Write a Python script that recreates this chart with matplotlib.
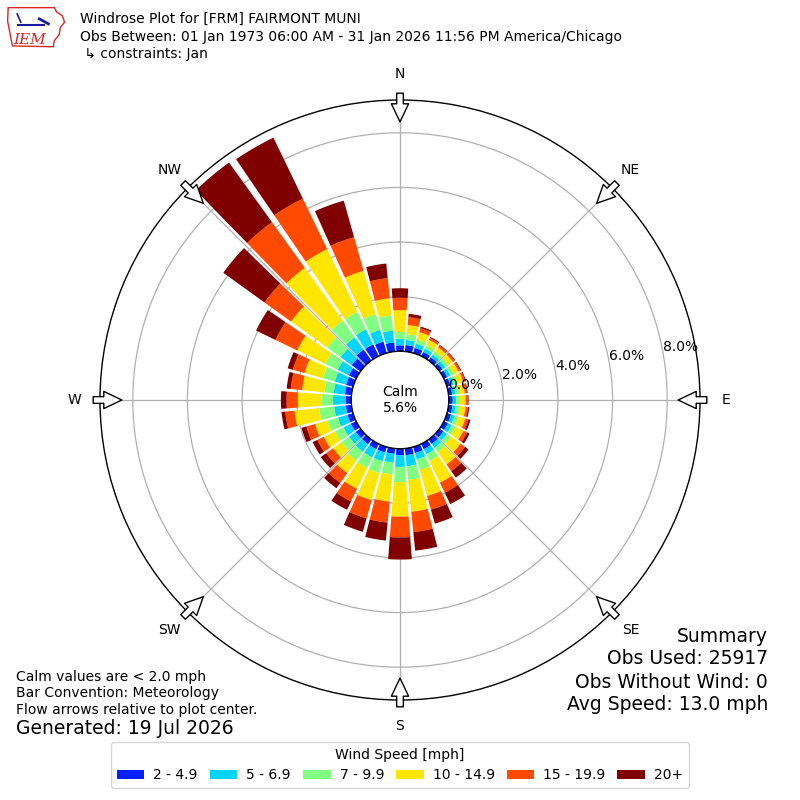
import numpy as np
import matplotlib
matplotlib.use("Agg")
from matplotlib import pyplot as plt
from matplotlib.patches import Polygon

# wind direction bins (degrees, meteorological, 10 deg sectors)
directions = np.arange(0, 360, 10)

# percent of observations per direction for each speed class
speed_2_5 = [0.22, 0.24, 0.20, 0.17, 0.15, 0.14, 0.14, 0.14, 0.14, 0.15, 0.15, 0.16,
             0.17, 0.18, 0.20, 0.22, 0.24, 0.25, 0.24, 0.20, 0.22, 0.22, 0.22, 0.22,
             0.22, 0.22, 0.21, 0.21, 0.25, 0.27, 0.30, 0.40, 0.50, 0.48, 0.44, 0.34]
speed_5_7 = [0.24, 0.19, 0.16, 0.14, 0.13, 0.13, 0.13, 0.13, 0.12, 0.12, 0.13, 0.14,
             0.15, 0.16, 0.18, 0.21, 0.24, 0.41, 0.43, 0.33, 0.33, 0.33, 0.33, 0.30,
             0.30, 0.36, 0.43, 0.46, 0.41, 0.43, 0.45, 0.50, 0.55, 0.61, 0.45, 0.43]
speed_7_10 = [0.25, 0.21, 0.16, 0.14, 0.13, 0.13, 0.13, 0.14, 0.14, 0.14, 0.14, 0.15,
              0.16, 0.18, 0.20, 0.27, 0.40, 0.50, 0.56, 0.43, 0.45, 0.43, 0.40, 0.33,
              0.34, 0.40, 0.55, 0.43, 0.34, 0.45, 0.50, 0.60, 0.75, 0.71, 0.59, 0.56]
speed_10_15 = [0.80, 0.34, 0.28, 0.21, 0.19, 0.20, 0.20, 0.21, 0.20, 0.21, 0.21, 0.25,
               0.32, 0.43, 0.55, 0.88, 0.99, 1.17, 1.26, 1.00, 1.03, 0.85, 0.57, 0.39,
               0.46, 0.47, 0.91, 0.86, 0.82, 0.70, 1.15, 1.63, 2.38, 2.55, 1.65, 0.63]
speed_15_20 = [0.45, 0.29, 0.15, 0.08, 0.08, 0.08, 0.08, 0.08, 0.08, 0.08, 0.09, 0.12,
               0.15, 0.20, 0.30, 0.41, 0.52, 0.75, 0.76, 0.77, 0.69, 0.51, 0.44, 0.31,
               0.26, 0.33, 0.34, 0.41, 0.42, 0.44, 0.88, 1.20, 2.06, 2.05, 1.28, 0.74]
speed_20_plus = [0.35, 0.12, 0.06, 0.04, 0.03, 0.03, 0.03, 0.03, 0.03, 0.03, 0.05, 0.08,
                 0.10, 0.16, 0.29, 0.46, 0.53, 0.68, 0.81, 0.66, 0.51, 0.34, 0.24, 0.24,
                 0.19, 0.19, 0.14, 0.21, 0.15, 0.20, 0.79, 1.86, 2.69, 2.48, 1.39, 0.54]

speed_labels = ["2 - 4.9", "5 - 6.9", "7 - 9.9", "10 - 14.9", "15 - 19.9", "20+"]
speed_colors = ["#0020ff", "#00d4ff", "#80ff80", "#ffe600", "#ff4a00", "#800000"]
ring_values = [0.0, 2.0, 4.0, 6.0, 8.0]
compass_names = ["N", "NE", "E", "SE", "S", "SW", "W", "NW"]

calm_pct = 5.6
obs_used = 25917
obs_no_wind = 0
avg_speed = 13.0

series = [speed_2_5, speed_5_7, speed_7_10, speed_10_15, speed_15_20, speed_20_plus]

fig = plt.figure(figsize=(8, 8), dpi=100)
ax = fig.add_axes([0.125, 0.125, 0.75, 0.75], projection="polar")
ax.set_theta_zero_location("N")
ax.set_theta_direction(-1)
ax.set_rorigin(-1.78)
ax.set_ylim(0, 9.2)

theta = np.radians(directions)
width = np.radians(10) * 0.85
bottom = np.zeros(len(directions))
for vals, lab, col in zip(series, speed_labels, speed_colors):
    vals = np.array(vals)
    ax.bar(theta, vals, width=width, bottom=bottom, color=col, label=lab,
           linewidth=0, zorder=2)
    bottom = bottom + vals

# grid
ax.set_xticks(np.radians(np.arange(0, 360, 45)))
ax.set_xticklabels([])
ax.set_yticks(ring_values[1:])
ax.set_yticklabels([])
ax.grid(True, color="#b0b0b0", linewidth=0.9, zorder=1)
ax.spines["polar"].set_linewidth(1.0)

# calm circle edge
circ = np.linspace(0, 2 * np.pi, 400)
ax.plot(circ, np.zeros_like(circ), color="black", linewidth=1.2, zorder=5)

# ring labels
for v in ring_values:
    ax.text(np.radians(80), v, f"{v:.1f}%", ha="left", va="bottom", fontsize=10, zorder=6)

# compass labels and flow arrows
for i, name in enumerate(compass_names):
    t = np.radians(i * 45)
    ax.text(t, 10.15, name, ha="center", va="center", fontsize=10, clip_on=False)
    ax.annotate("", xy=(t, 8.4), xytext=(t, 9.45), annotation_clip=False,
                arrowprops=dict(arrowstyle="simple,head_length=0.65,head_width=0.62,tail_width=0.24",
                                fc="white", ec="black", lw=1.0, mutation_scale=20,
                                shrinkA=0, shrinkB=0), zorder=7)

fig.text(0.5, 0.5, f"Calm\n{calm_pct:.1f}%", ha="center", va="center", fontsize=10)

# header
fig.text(0.1, 1 - 19 / 800, "Windrose Plot for [FRM] FAIRMONT MUNI", fontsize=10, va="center")
fig.text(0.1, 1 - 37 / 800, "Obs Between: 01 Jan 1973 06:00 AM - 31 Jan 2026 11:56 PM America/Chicago",
         fontsize=10, va="center")
fig.text(0.1, 1 - 54 / 800, " \u21b3 constraints: Jan", fontsize=10, va="center")

# logo
lax = fig.add_axes([0.008, 0.94, 0.075, 0.052])
lax.set_xlim(0, 1)
lax.set_ylim(0, 1)
lax.axis("off")
iowa = [(0.03, 0.97), (0.80, 0.97), (0.84, 0.86), (0.93, 0.78), (0.97, 0.62), (0.90, 0.50),
        (0.88, 0.32), (0.80, 0.18), (0.78, 0.03), (0.10, 0.05), (0.06, 0.35), (0.02, 0.65)]
lax.add_patch(Polygon(iowa, closed=True, fill=False, edgecolor="#d62728", linewidth=1.0))
lax.plot([0.2, 0.62], [0.55, 0.55], color="#1a1aa0", lw=1.5)
lax.plot([0.18, 0.24], [0.82, 0.62], color="#1a1aa0", lw=1.2)
lax.plot([0.55, 0.7], [0.7, 0.58], color="#1a1aa0", lw=2.0)
lax.text(0.12, 0.2, "IEM", color="#d62728", fontsize=11, family="DejaVu Serif",
         style="italic", va="center")

# footnotes
fig.text(0.02, 1 - 677 / 800, "Calm values are < 2.0 mph", fontsize=10, va="center")
fig.text(0.02, 1 - 693 / 800, "Bar Convention: Meteorology", fontsize=10, va="center")
fig.text(0.02, 1 - 710 / 800, "Flow arrows relative to plot center.", fontsize=10, va="center")
fig.text(0.02, 1 - 729 / 800, "Generated: 19 Jul 2026", fontsize=13.5, va="center")

summary = ["Summary", f"Obs Used: {obs_used}", f"Obs Without Wind: {obs_no_wind}",
           f"Avg Speed: {avg_speed:.1f} mph"]
for j, line in enumerate(summary):
    fig.text(0.96, 1 - (636 + j * 23) / 800, line, fontsize=13.5, ha="right", va="center")

leg = fig.legend(loc="upper center", bbox_to_anchor=(0.5, 1 - 735 / 800), ncol=6,
                 title="Wind Speed [mph]", fontsize=10, title_fontsize=10,
                 handleheight=0.7, columnspacing=0.85, handletextpad=0.65)

fig.savefig("out.png", dpi=100)
